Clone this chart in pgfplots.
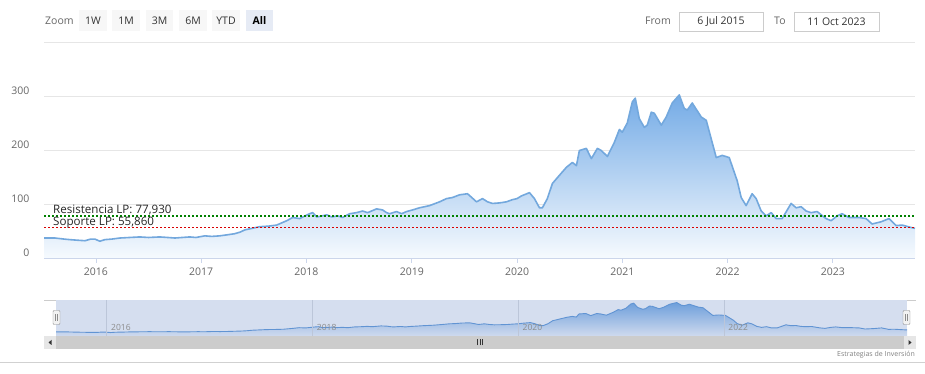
\documentclass[border=0pt]{standalone}
\usepackage{fontspec}
\setmainfont{Open Sans}
\usepackage{pgfplots}
\pgfplotsset{compat=1.18}
\usepackage{pgfplotstable}
\definecolor{tl}{HTML}{666666}
\definecolor{txt}{HTML}{333333}
\definecolor{btnbg}{HTML}{F7F7F7}
\definecolor{btnsel}{HTML}{E6EBF5}
\definecolor{boxc}{HTML}{CCCCCC}
\definecolor{gridc}{HTML}{E6E6E6}
\definecolor{axc}{HTML}{CCD6EB}
\definecolor{lc}{HTML}{73A8DD}
\definecolor{fillTop}{HTML}{74ABE6}
\definecolor{fillBot}{HTML}{F6FAFE}
\definecolor{navbg}{HTML}{D5DEEF}
\definecolor{navgrid}{HTML}{BCC6D9}
\definecolor{navline}{HTML}{6194D3}
\definecolor{navTop}{HTML}{6E9FDB}
\definecolor{navBot}{HTML}{CFDAEE}
\definecolor{scrl}{HTML}{CCCCCC}
\definecolor{scrbtn}{HTML}{E6E6E6}

\pgfplotstableread{
t v
2015.507 37
2015.611 37
2015.700 35
2015.753 34
2015.820 33
2015.896 32
2015.950 35
2015.991 35
2016.038 31
2016.085 34
2016.150 35
2016.228 37
2016.320 38
2016.417 39
2016.500 38
2016.607 39
2016.680 38
2016.750 37
2016.820 38
2016.892 39
2016.950 38
2017.034 41
2017.100 40
2017.176 41
2017.250 43
2017.319 45
2017.370 48
2017.414 52
2017.461 54
2017.556 58
2017.640 59
2017.717 61
2017.812 69
2017.869 75
2017.935 73
2018.030 82
2018.059 84
2018.097 76
2018.150 78
2018.192 80
2018.239 76
2018.296 78
2018.343 75
2018.410 82
2018.476 84
2018.533 87
2018.581 84
2018.666 91
2018.723 89
2018.761 84
2018.789 82
2018.856 86
2018.903 82
2018.951 86
2019.008 89
2019.074 93
2019.169 97
2019.264 104
2019.330 110
2019.387 112
2019.454 117
2019.529 119
2019.570 112
2019.615 104
2019.672 110
2019.720 104
2019.767 101
2019.833 102
2019.899 104
2019.956 108
2020.000 110
2020.042 115
2020.080 118
2020.118 121
2020.165 110
2020.213 93
2020.241 93
2020.288 110
2020.336 138
2020.402 153
2020.469 168
2020.526 177
2020.564 171
2020.592 199
2020.658 203
2020.706 184
2020.763 203
2020.801 199
2020.858 188
2020.924 214
2020.972 238
2021.000 233
2021.047 250
2021.095 289
2021.123 296
2021.161 258
2021.209 242
2021.237 246
2021.275 270
2021.304 268
2021.370 246
2021.417 261
2021.474 287
2021.541 302
2021.588 277
2021.617 274
2021.664 287
2021.750 261
2021.797 255
2021.892 186
2021.949 190
2022.015 186
2022.091 143
2022.129 112
2022.176 97
2022.233 119
2022.271 110
2022.319 87
2022.366 78
2022.414 84
2022.461 73
2022.518 73
2022.603 101
2022.651 93
2022.698 95
2022.746 87
2022.793 84
2022.850 86
2022.935 73
2022.983 69
2023.040 78
2023.087 82
2023.154 75
2023.249 75
2023.315 73
2023.372 63
2023.457 67
2023.533 73
2023.600 60
2023.657 61
2023.752 56
2023.780 55
}\pricedata

\pgfplotstableread{
t res sup
2015.507 77.93 55.86
2023.780 77.93 55.86
}\levels

\newcommand{\fs}{\fontsize{10.5}{12}\selectfont}

\begin{document}
\begin{tikzpicture}[x=1pt,y=1pt]
\useasboundingbox (0,0) rectangle (925,374);

% ---- range selector ----
\node[anchor=west, text=tl, font=\fs, inner sep=0] at (45,353.5) {Zoom};
\foreach \xa/\xb/\lab in {79/107/1W,112/140/1M,146/173/3M,179/207/6M,212/240/YTD}{
  \fill[btnbg] (\xa,343) rectangle (\xb,364);
  \node[text=txt, font=\fs, inner sep=0] at ({(\xa+\xb)/2},353.5) {\lab};
}
\fill[btnsel] (246,343) rectangle (273,364);
\node[text=black, font=\fs\bfseries, inner sep=0] at (259.5,353.5) {All};

\node[anchor=west, text=tl, font=\fs, inner sep=0] at (645,353.5) {From};
\draw[boxc, fill=white] (679,343) rectangle (763,362);
\node[text=txt, font=\fs, inner sep=0] at (721,352.5) {6 Jul 2015};
\node[anchor=west, text=tl, font=\fs, inner sep=0] at (774,353.5) {To};
\draw[boxc, fill=white] (794,343) rectangle (879,362);
\node[text=txt, font=\fs, inner sep=0] at (836.5,352.5) {11 Oct 2023};

% ---- main chart ----
\begin{axis}[
  at={(44pt,116pt)}, anchor=south west, scale only axis,
  width=871pt, height=216pt,
  xmin=2015.507, xmax=2023.78, ymin=0, ymax=400,
  axis x line*=bottom, axis y line*=left,
  x axis line style={draw=axc, -},
  y axis line style={draw=none},
  ytick={0,100,200,300,400}, yticklabels={0,100,200,300,{}},
  ymajorgrids, grid style={gridc, line width=0.8pt},
  ytick style={draw=none},
  xtick={2016,2017,2018,2019,2020,2021,2022,2023},
  xticklabels={2016,2017,2018,2019,2020,2021,2022,2023},
  xtick style={draw=axc, line width=0.8pt},
  tick align=outside, major tick length=5pt,
  /pgf/number format/assume math mode=true,
  tick label style={font=\fs, text=tl},
  yticklabel style={anchor=east, xshift=-6pt, yshift=5.5pt},
  xticklabel style={yshift=-1pt},
  clip=true,
]
\addplot[draw=none, top color=fillTop, bottom color=fillBot] table[x=t,y=v]{\pricedata} \closedcycle;
\addplot[lc, line width=1.6pt, line join=round] table[x=t,y=v]{\pricedata};
\addplot[green!50!black, line width=1.2pt, dash pattern=on 2.4pt off 1.6pt] table[x=t,y=res]{\levels};
\addplot[red!85!black, line width=1.2pt, dash pattern=on 2.4pt off 1.6pt] table[x=t,y=sup]{\levels};
\node[anchor=base west, inner sep=0, font=\fontsize{11.6}{13}\selectfont, text=black!85] at (axis cs:2015.592,82.3) {Resistencia LP: 77,930};
\node[anchor=base west, inner sep=0, font=\fontsize{11.6}{13}\selectfont, text=black!85] at (axis cs:2015.592,60.3) {Soporte LP: 55,860};
\end{axis}

% ---- navigator ----
\draw[boxc, line width=0.8pt] (44,74) -- (916,74);
\begin{axis}[
  at={(56pt,38pt)}, anchor=south west, scale only axis,
  width=851pt, height=36pt,
  xmin=2015.507, xmax=2023.78, ymin=0, ymax=325,
  axis line style={draw=none},
  axis background/.style={fill=navbg},
  axis on top=true,
  ytick=\empty,
  xtick={2016,2018,2020,2022},
  xticklabels={2016,2018,2020,2022},
  xmajorgrids, grid style={navgrid, line width=0.6pt},
  major tick length=0pt,
  xticklabel style={anchor=south west, xshift=1pt, yshift=1.5pt, font=\fontsize{8.5}{9}\selectfont, text=black!45},
]
\addplot[draw=none, top color=navTop, bottom color=navBot] table[x=t,y=v]{\pricedata} \closedcycle;
\addplot[navline, line width=0.9pt] table[x=t,y=v]{\pricedata};
\end{axis}

% handles
\foreach \hx in {56.5,906.5}{
  \draw[black!45, fill=black!5, rounded corners=1pt] (\hx-3.5,49.5) rectangle (\hx+3.5,63.5);
  \draw[black!45] (\hx-1,53) -- (\hx-1,60) (\hx+1,53) -- (\hx+1,60);
}

% scrollbar
\fill[black!5] (44,25) rectangle (916,38);
\fill[scrl] (56,25) rectangle (904,38);
\fill[scrbtn] (44,25) rectangle (56,38);
\fill[scrbtn] (904,25) rectangle (916,38);
\fill[txt] (48.5,31.5) -- (51.5,34) -- (51.5,29) -- cycle;
\fill[txt] (911.5,31.5) -- (908.5,34) -- (908.5,29) -- cycle;
\draw[txt, line width=0.6pt] (477.5,28.5) -- (477.5,34.5) (480,28.5) -- (480,34.5) (482.5,28.5) -- (482.5,34.5);

% credits
\node[anchor=east, inner sep=0, font=\fontsize{7}{8}\selectfont, text=black!50] at (915,19) {Estrategias de Inversión};
\draw[black!18, line width=0.8pt] (0,12) -- (925,12);
\end{tikzpicture}
\end{document}
